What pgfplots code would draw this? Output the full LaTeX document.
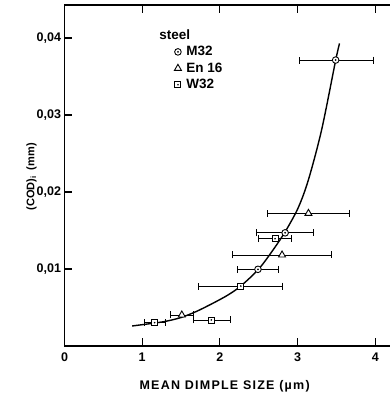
\documentclass[border=0pt]{standalone}
\usepackage{fontspec}
\setmainfont{Liberation Sans}
\newfontfamily\spaced[LetterSpace=10]{Liberation Sans}
\usepackage{pgfplots}
\pgfplotsset{compat=1.18}
\pgfdeclareplotmark{odot}{%
  \pgfpathcircle{\pgfpointorigin}{\pgfplotmarksize}\pgfusepathqfillstroke
  \begin{pgfscope}\pgfsetfillcolor{black}%
  \pgfpathcircle{\pgfpointorigin}{0.3\pgfplotmarksize}\pgfusepathqfill\end{pgfscope}}
\pgfdeclareplotmark{sqdot}{%
  \pgfpathrectangle{\pgfpoint{-\pgfplotmarksize}{-\pgfplotmarksize}}{\pgfpoint{2\pgfplotmarksize}{2\pgfplotmarksize}}\pgfusepathqfillstroke
  \begin{pgfscope}\pgfsetfillcolor{black}%
  \pgfpathcircle{\pgfpointorigin}{0.3\pgfplotmarksize}\pgfusepathqfill\end{pgfscope}}
\begin{document}
\begin{tikzpicture}
\begin{axis}[
  scale only axis,
  width=330.2pt, height=341pt,
  xmin=0, xmax=4.25, ymin=0, ymax=0.04429,
  xtick={0,1,2,3,4},
  ytick={0.01,0.02,0.03,0.04},
  tick align=inside,
  major tick length=8pt,
  ytick pos=left,
  axis line style={line width=1.4pt},
  every tick/.style={line width=1.2pt, black},
  scaled y ticks=false,
  /pgf/number format/assume math mode=true,
  yticklabel style={/pgf/number format/.cd, fixed, fixed zerofill, precision=2, use comma},
  tick label style={font=\bfseries\fontsize{12.5}{15}\selectfont},
  xticklabel style={yshift=-3pt},
  xlabel={\spaced MEAN DIMPLE SIZE (µm)},
  xlabel style={font=\bfseries\fontsize{12.5}{15}\selectfont, at={(axis description cs:0.485,-0.117)}, anchor=center},
  ylabel={(COD)$_{\mathbf{i}}$\ \ (mm)},
  ylabel style={font=\bfseries\fontsize{11}{13}\selectfont, at={(axis description cs:-0.10,0.496)}, anchor=center},
  legend style={draw=none, fill=none, at={(axis description cs:0.308,0.94)}, anchor=north west,
    font=\bfseries\fontsize{13.5}{16}\selectfont, row sep=1.5pt, cells={anchor=west}},
  legend cell align=left,
  error bars/error bar style={line width=0.9pt},
  error bars/error mark options={line width=0.9pt, mark size=3.5pt, rotate=90},
]
\addlegendimage{empty legend}
\addlegendentry{\hspace{-24pt}steel}
\addplot[only marks, mark=odot, mark size=3.3pt, mark options={fill=white, line width=0.9pt},
  error bars/.cd, x dir=both, x explicit]
  table[x=x, y=y, x error plus=ep, x error minus=em] {
x     y        ep    em
2.84  0.0147   0.37  0.37
2.49  0.00996  0.27  0.27
3.49  0.03714  0.49  0.47
};
\addlegendentry{\hspace{3pt}M32}
\addplot[only marks, mark=triangle*, mark size=4pt, mark options={fill=white, line width=0.9pt},
  error bars/.cd, x dir=both, x explicit]
  table[x=x, y=y, x error plus=ep, x error minus=em] {
x     y        ep    em
3.14  0.01723  0.53  0.53
2.80  0.01182  0.64  0.64
1.51  0.00403  0.15  0.14
};
\addlegendentry{\hspace{3pt}En 16}
\addplot[only marks, mark=sqdot, mark size=3pt, mark options={fill=white, line width=0.9pt},
  error bars/.cd, x dir=both, x explicit]
  table[x=x, y=y, x error plus=ep, x error minus=em] {
x     y        ep    em
2.71  0.01394  0.21  0.22
2.27  0.00779  0.54  0.54
1.89  0.00338  0.24  0.23
1.16  0.00303  0.14  0.13
};
\addlegendentry{\hspace{3pt}W32}
\addplot[black, line width=1.4pt, smooth, forget plot] coordinates {
(0.87,0.0026) (1.1,0.0029) (1.3,0.0032) (1.5,0.0037) (1.7,0.0045) (1.9,0.0055)
(2.1,0.0066) (2.27,0.0078) (2.5,0.0100) (2.7,0.0127) (2.85,0.0150) (3.01,0.0180)
(3.14,0.0216) (3.31,0.0281) (3.49,0.0371) (3.54,0.0393)
};
\end{axis}
\pgfresetboundingbox
\useasboundingbox (current axis.origin) ++(-64.5pt,-47pt) rectangle ++(389pt,393pt);
\end{tikzpicture}
\end{document}
